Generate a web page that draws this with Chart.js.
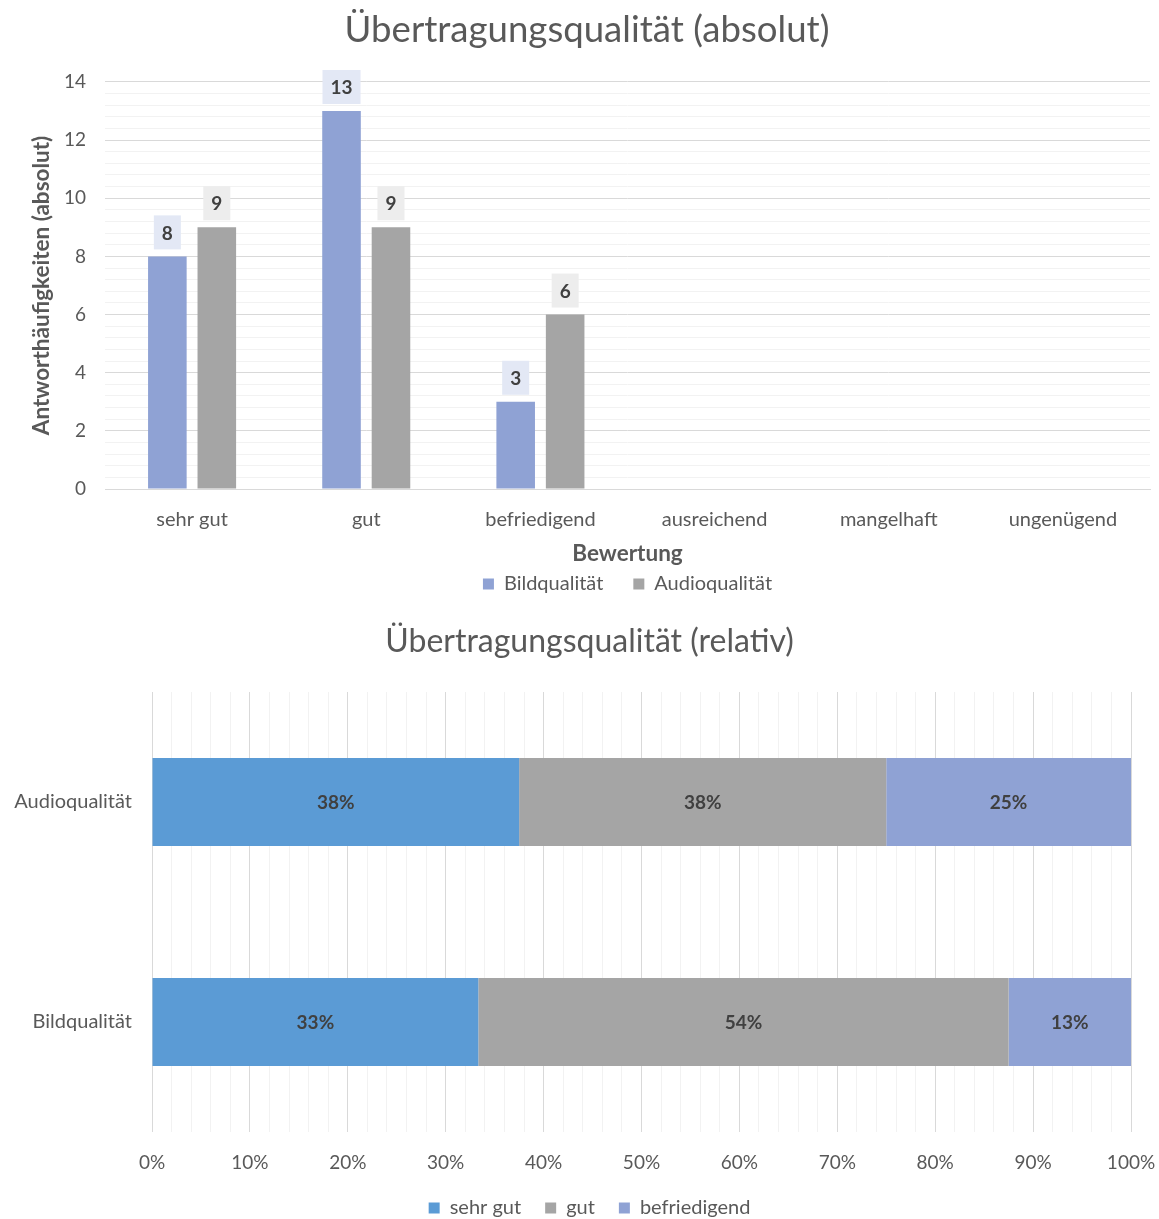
<!DOCTYPE html>
<html lang="de">
<head>
<meta charset="utf-8">
<title>Übertragungsqualität</title>
<script src="https://cdn.jsdelivr.net/npm/chart.js@4/dist/chart.umd.min.js"></script>
<style>
  html, body { margin: 0; padding: 0; background: #ffffff; overflow: hidden; }
  .panel { position: absolute; left: 0; width: 1159px; }
  #panelAbs { top: 0; height: 604px; }
  #panelRel { top: 604px; height: 624px; }
</style>
</head>
<body>
<div class="panel" id="panelAbs"><canvas id="chartAbs"></canvas></div>
<div class="panel" id="panelRel"><canvas id="chartRel"></canvas></div>
<script>
// ---- data: absolute answers per rating ----
const ratings = ['sehr gut', 'gut', 'befriedigend', 'ausreichend', 'mangelhaft', 'ungenügend'];
const bildCounts  = [8, 13, 3, null, null, null];
const audioCounts = [9, 9, 6, null, null, null];

// ---- data: relative shares (percent) per quality type ----
const qualities = ['Audioqualität', 'Bildqualität'];
const shareSehrGut      = [37.5, 33.33];
const shareGut          = [37.5, 54.17];
const shareBefriedigend = [25, 12.5];

// ---- styling ----
const FONT = 'Lato';
const TEXT = '#595959';
const LABEL = '#404040';
const GRID_MAJOR = '#D9D9D9';
const GRID_MINOR = '#F2F2F2';
const BLUE_GREY = '#8FA2D4';
const GREY = '#A5A5A5';
const BLUE = '#5B9BD5';

Chart.defaults.font.family = FONT;
Chart.defaults.color = TEXT;
Chart.defaults.animation = false;
Chart.defaults.responsive = true;
Chart.defaults.maintainAspectRatio = false;

const isMultiple = (v, m) => Math.abs(v / m - Math.round(v / m)) < 1e-6;

// value boxes above the columns
const columnValueBoxes = {
  id: 'columnValueBoxes',
  afterDatasetsDraw(chart, args, opts) {
    const ctx = chart.ctx;
    ctx.save();
    ctx.font = 'bold 19px ' + FONT;
    ctx.textAlign = 'center';
    ctx.textBaseline = 'middle';
    chart.data.datasets.forEach((ds, i) => {
      const meta = chart.getDatasetMeta(i);
      meta.data.forEach((bar, j) => {
        const v = ds.data[j];
        if (v == null) return;
        const txt = String(v);
        const w = ctx.measureText(txt).width + 16;
        const h = 34;
        const cy = bar.y - 24;
        ctx.fillStyle = opts.fills[i];
        ctx.fillRect(bar.x - w / 2, cy - h / 2, w, h);
        ctx.fillStyle = LABEL;
        ctx.fillText(txt, bar.x, cy + 1);
      });
    });
    ctx.restore();
  }
};

// percentage labels centred in the stacked segments
const segmentLabels = {
  id: 'segmentLabels',
  afterDatasetsDraw(chart) {
    const ctx = chart.ctx;
    ctx.save();
    ctx.font = 'bold 19px ' + FONT;
    ctx.textAlign = 'center';
    ctx.textBaseline = 'middle';
    ctx.fillStyle = LABEL;
    chart.data.datasets.forEach((ds, i) => {
      const meta = chart.getDatasetMeta(i);
      meta.data.forEach((bar, j) => {
        const v = ds.data[j];
        if (v == null) return;
        const p = bar.getCenterPoint();
        ctx.fillText(Math.round(v) + '%', p.x, p.y + 1);
      });
    });
    ctx.restore();
  }
};

// ---- column chart (absolute) ----
new Chart(document.getElementById('chartAbs'), {
  type: 'bar',
  data: {
    labels: ratings,
    datasets: [
      { label: 'Bildqualität', data: bildCounts, backgroundColor: BLUE_GREY },
      { label: 'Audioqualität', data: audioCounts, backgroundColor: GREY }
    ]
  },
  options: {
    layout: { padding: { left: 24, right: 9, top: 0, bottom: 0 } },
    categoryPercentage: 0.568,
    barPercentage: 0.78,
    plugins: {
      title: {
        display: true,
        text: 'Übertragungsqualität (absolut)',
        color: TEXT,
        font: { size: 36.6, weight: 'normal' },
        padding: { top: 8, bottom: 30 }
      },
      legend: {
        position: 'bottom',
        fullSize: false,
        labels: { boxWidth: 11, boxHeight: 11, padding: 30, color: TEXT, font: { size: 20 } }
      },
      tooltip: { enabled: false },
      columnValueBoxes: { fills: ['#E3E8F5', '#EDEDED'] }
    },
    scales: {
      x: {
        grid: { display: false, drawTicks: false },
        border: { display: true, color: GRID_MAJOR, width: 1 },
        ticks: { padding: 19, font: { size: 20 }, color: TEXT, maxRotation: 0 },
        title: {
          display: true, text: 'Bewertung', color: TEXT,
          font: { size: 22.5, weight: 'bold' }, padding: { top: 0, bottom: -23.5 }
        },
        afterFit(scale) { scale.height = 55; }
      },
      y: {
        min: 0, max: 14,
        ticks: {
          stepSize: 0.4, autoSkip: false, padding: 19,
          font: { size: 19 }, color: TEXT,
          callback: (v) => isMultiple(v, 2) ? Math.round(v) : ''
        },
        grid: {
          drawTicks: false,
          color: (c) => (c.tick && isMultiple(c.tick.value, 2)) ? GRID_MAJOR : GRID_MINOR
        },
        border: { display: false },
        title: {
          display: true, text: 'Antworthäufigkeiten (absolut)', color: TEXT,
          font: { size: 22.5, weight: 'bold' }, padding: { top: 4, bottom: 0 }
        },
        afterFit(scale) { scale.width = 81; }
      }
    }
  },
  plugins: [columnValueBoxes]
});

// ---- stacked bar chart (relative) ----
new Chart(document.getElementById('chartRel'), {
  type: 'bar',
  data: {
    labels: qualities,
    datasets: [
      { label: 'sehr gut', data: shareSehrGut, backgroundColor: BLUE },
      { label: 'gut', data: shareGut, backgroundColor: GREY },
      { label: 'befriedigend', data: shareBefriedigend, backgroundColor: BLUE_GREY }
    ]
  },
  options: {
    indexAxis: 'y',
    layout: { padding: { left: 6, right: -14, top: 0, bottom: 0 } },
    categoryPercentage: 1,
    barPercentage: 0.4,
    plugins: {
      title: {
        display: true,
        text: 'Übertragungsqualität (relativ)',
        color: TEXT,
        font: { size: 32, weight: 'normal' },
        padding: { top: 18, bottom: 31.6 }
      },
      legend: {
        position: 'bottom',
        labels: { boxWidth: 11, boxHeight: 11, padding: 24, color: TEXT, font: { size: 20 } }
      },
      tooltip: { enabled: false }
    },
    scales: {
      x: {
        stacked: true,
        min: 0, max: 100,
        ticks: {
          stepSize: 2, autoSkip: false, maxRotation: 0, minRotation: 0, padding: 19,
          font: { size: 19 }, color: TEXT,
          callback: (v) => isMultiple(v, 10) ? Math.round(v) + '%' : ''
        },
        grid: {
          drawTicks: false,
          color: (c) => (c.tick && isMultiple(c.tick.value, 10)) ? GRID_MAJOR : GRID_MINOR
        },
        border: { display: false },
        afterFit(scale) {
          scale.height = 42;
          scale.paddingLeft = 0;
          scale.paddingRight = 28;
        }
      },
      y: {
        stacked: true,
        grid: { display: false, drawTicks: false },
        border: { display: false },
        ticks: { padding: 20, font: { size: 20 }, color: TEXT },
        afterFit(scale) { scale.width = 146; }
      }
    }
  },
  plugins: [segmentLabels]
});
</script>
</body>
</html>
